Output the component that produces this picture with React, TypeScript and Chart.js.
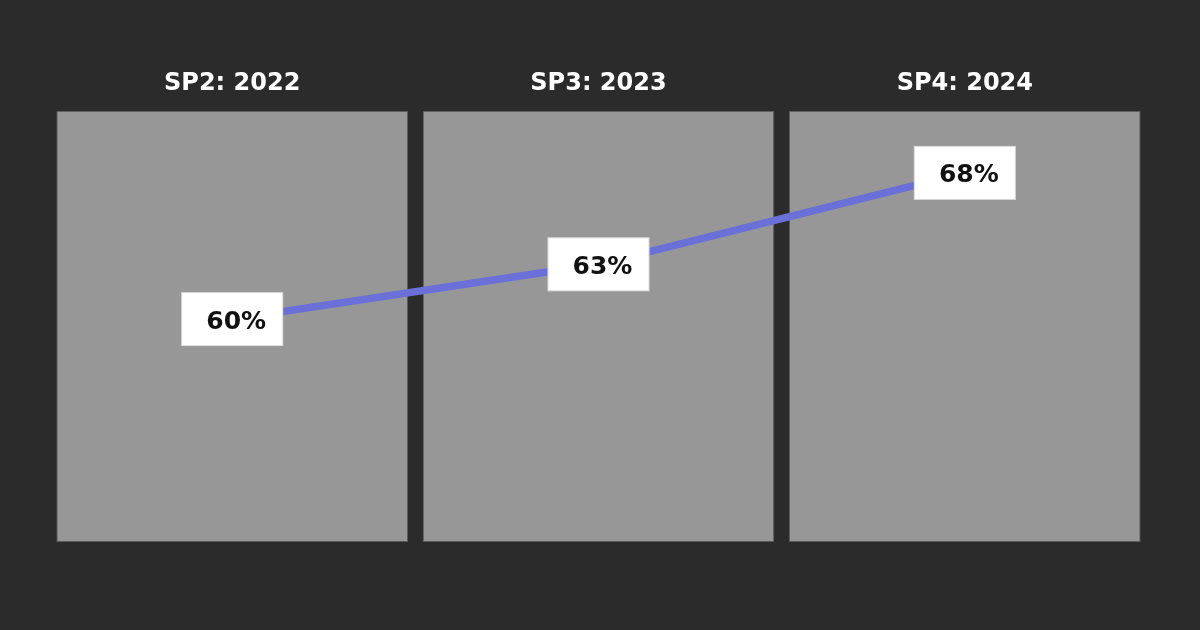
import React, { useEffect, useRef } from "react";
import { Chart, registerables } from "chart.js";

Chart.register(...registerables);

const categories = ["SP2: 2022", "SP3: 2023", "SP4: 2024"];
const shareValues = [60, 63, 68];
const valueLabels = ["60%", "63%", "68%"];
const panelRange: [number, number] = [47.8, 71.4];

const labelBoxPlugin = {
  id: "labelBoxes",
  afterDatasetsDraw(chart: any) {
    const meta = chart.getDatasetMeta(1);
    const ctx = chart.ctx;
    ctx.save();
    meta.data.forEach((pt: any, i: number) => {
      const w = 102;
      const h = 54;
      const x = pt.x - w / 2;
      const y = pt.y - h / 2;
      ctx.fillStyle = "#ffffff";
      ctx.fillRect(x, y, w, h);
      ctx.strokeStyle = "rgba(0,0,0,0.15)";
      ctx.lineWidth = 1;
      ctx.strokeRect(x + 0.5, y + 0.5, w - 1, h - 1);
      ctx.fillStyle = "#111111";
      ctx.font = "bold 25px 'DejaVu Sans', sans-serif";
      ctx.textAlign = "center";
      ctx.textBaseline = "middle";
      ctx.fillText(valueLabels[i], pt.x + 4, pt.y + 3);
    });
    ctx.restore();
  },
};

export default function App() {
  const ref = useRef<HTMLCanvasElement | null>(null);
  useEffect(() => {
    if (!ref.current) return;
    const chart = new Chart(ref.current, {
      data: {
        labels: categories,
        datasets: [
          {
            type: "bar",
            data: categories.map(() => panelRange),
            backgroundColor: "#979797",
            borderColor: "#5a5a5a",
            borderWidth: 1,
            borderSkipped: false,
            barPercentage: 0.96,
            categoryPercentage: 1,
            order: 2,
          } as any,
          {
            type: "line",
            data: shareValues,
            borderColor: "#6a70d8",
            borderWidth: 7.5,
            pointRadius: 0,
            tension: 0,
            order: 1,
          } as any,
        ],
      },
      options: {
        animation: false,
        responsive: false,
        layout: { padding: { left: 49, right: 52, top: 56, bottom: 88 } },
        plugins: { legend: { display: false }, tooltip: { enabled: false } },
        scales: {
          x: {
            position: "top",
            grid: { display: false, drawTicks: false },
            border: { display: false },
            ticks: {
              color: "#ffffff",
              padding: 13,
              font: { family: "'DejaVu Sans', sans-serif", size: 24, weight: "bold" },
            },
          },
          y: {
            display: false,
            min: panelRange[0],
            max: panelRange[1],
          },
        },
      },
      plugins: [labelBoxPlugin],
    });
    return () => chart.destroy();
  }, []);
  return (
    <div style={{ position: "fixed", inset: 0, background: "#2b2b2b" }}>
      <canvas ref={ref} width={1200} height={630} style={{ display: "block" }} />
    </div>
  );
}
